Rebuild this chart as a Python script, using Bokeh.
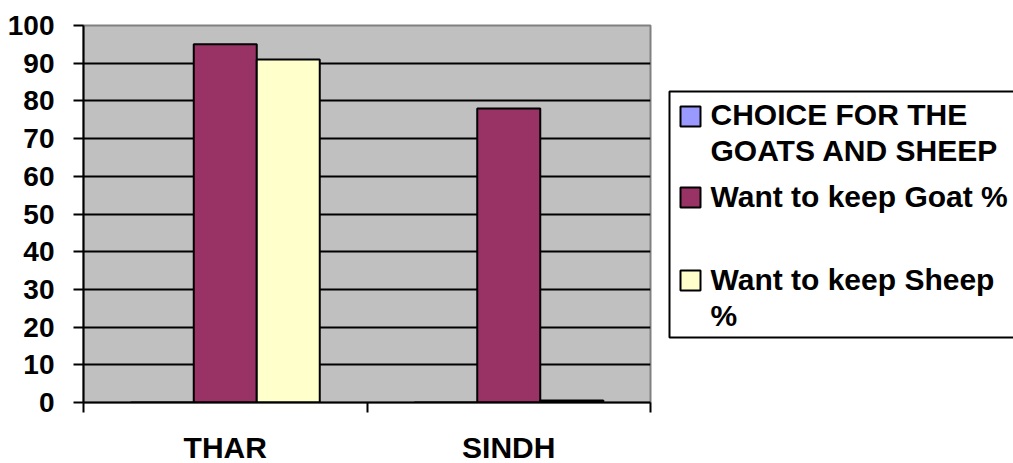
from bokeh.plotting import figure
from bokeh.layouts import row
from bokeh.models import Range1d, FixedTicker
from bokeh.core.properties import value
from bokeh.embed import file_html
from bokeh.resources import INLINE

categories = ["THAR", "SINDH"]
series = ["CHOICE FOR THE GOATS AND SHEEP", "Want to keep Goat %", "Want to keep Sheep %"]
legend_lines = [["CHOICE FOR THE", "GOATS AND SHEEP"], ["Want to keep Goat %"], ["Want to keep Sheep", "%"]]
choice_vals = [0, 0]
goat_vals = [95, 78]
sheep_vals = [91, 0.5]
colors = ["#9999FF", "#993366", "#FFFFCC"]
y_ticks = list(range(0, 101, 10))

FONT = "Liberation Sans, Arial, sans-serif"

p = figure(output_backend="svg", toolbar_location=None,
           frame_width=567, frame_height=377,
           min_border_left=83, min_border_top=25, min_border_bottom=58, min_border_right=10,
           x_range=Range1d(0, len(categories)), y_range=Range1d(0, 100),
           background_fill_color="#C0C0C0", border_fill_color="white")
p.outline_line_color = "#808080"
p.outline_line_width = 2

bar_w = 2.0 / 9.0
all_vals = [choice_vals, goat_vals, sheep_vals]
for si, vals in enumerate(all_vals):
    xs = [i + 0.5 + (si - 1) * bar_w for i in range(len(categories))]
    p.vbar(x=xs, top=vals, bottom=0, width=bar_w, fill_color=colors[si],
           line_color="black", line_width=2)

p.xgrid.visible = False
p.ygrid.ticker = FixedTicker(ticks=y_ticks)
p.ygrid.grid_line_color = "black"
p.ygrid.grid_line_width = 2

p.yaxis.ticker = FixedTicker(ticks=y_ticks)
p.yaxis.axis_line_color = "black"
p.yaxis.axis_line_width = 2
p.yaxis.major_tick_line_color = "black"
p.yaxis.major_tick_line_width = 2
p.yaxis.major_tick_out = 10
p.yaxis.major_tick_in = 0
p.yaxis.minor_tick_line_color = None
p.yaxis.major_label_text_font = FONT
p.yaxis.major_label_text_font_style = "bold"
p.yaxis.major_label_text_font_size = "28px"
p.yaxis.major_label_text_color = "black"
p.yaxis.major_label_standoff = 19

centers = [i + 0.5 for i in range(len(categories))]
bounds = [float(i) for i in range(len(categories) + 1)]
p.xaxis.ticker = FixedTicker(ticks=centers, minor_ticks=bounds)
p.xaxis.major_label_overrides = {c: name for c, name in zip(centers, categories)}
p.xaxis.axis_line_color = "black"
p.xaxis.axis_line_width = 2
p.xaxis.major_tick_out = 0
p.xaxis.major_tick_in = 0
p.xaxis.minor_tick_out = 10
p.xaxis.minor_tick_in = 0
p.xaxis.minor_tick_line_color = "black"
p.xaxis.minor_tick_line_width = 2
p.xaxis.major_label_text_font = FONT
p.xaxis.major_label_text_font_style = "bold"
p.xaxis.major_label_text_font_size = "30px"
p.xaxis.major_label_text_color = "black"
p.xaxis.major_label_standoff = 18

# legend panel (data coords == page pixels)
X0, X1, Y0, Y1 = 660, 1013, 25, 402
leg = figure(output_backend="svg", toolbar_location=None,
             frame_width=X1 - X0, frame_height=Y1 - Y0,
             min_border_left=0, min_border_right=0, min_border_top=25, min_border_bottom=58,
             x_range=Range1d(X0, X1), y_range=Range1d(Y1, Y0),
             background_fill_color="white", border_fill_color="white")
leg.axis.visible = False
leg.grid.visible = False
leg.outline_line_color = None
leg.quad(left=[669], right=[X1 + 20], top=[91], bottom=[337],
         fill_color="white", line_color="black", line_width=2)

sw_tops = [106, 187, 270]
first_base = [114, 196, 279]
line_gap = 36
for si in range(len(series)):
    leg.quad(left=[680], right=[700], top=[sw_tops[si]], bottom=[sw_tops[si] + 20],
             fill_color=colors[si], line_color="black", line_width=2)
    for li, txt in enumerate(legend_lines[si]):
        leg.text(x=[710], y=[first_base[si] + li * line_gap], text=[txt],
                 text_font=value(FONT), text_font_style="bold",
                 text_font_size="30px", text_baseline="alphabetic",
                 text_align="left", text_color="black")

layout = row(p, leg)
open("out.html", "w").write(file_html(layout, INLINE))
